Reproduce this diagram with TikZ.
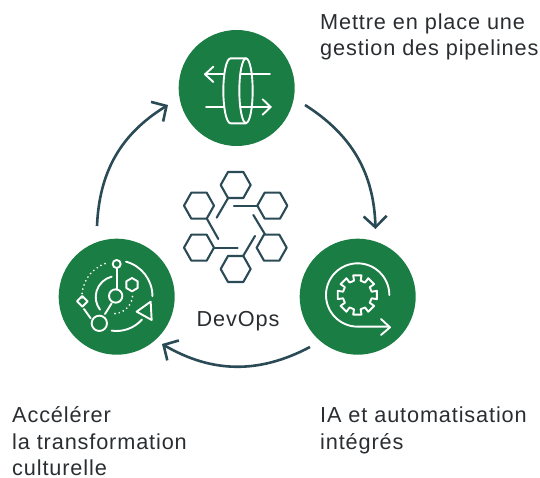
\documentclass[tikz,border=0pt]{standalone}
\usepackage{fontspec}
\setmainfont[LetterSpace=4]{Liberation Sans}
\usetikzlibrary{arrows.meta}
\definecolor{gr}{HTML}{1A7D43}
\definecolor{dk}{HTML}{2A4A55}
\definecolor{tx}{HTML}{2A2E31}
\tikzset{
  disc/.style={circle,fill=gr,draw=none,minimum size=116pt,inner sep=0pt},
  cyc/.style={draw=dk,line width=2.6pt,-{Straight Barb[length=11pt,width=23pt,line width=2.6pt]}},
  ico/.style={draw=white,line width=1.9pt,line join=round,line cap=round},
  hexl/.style={draw=dk,line width=2.1pt,line join=round,line cap=round},
  lab/.style={anchor=base west,align=left,text=tx,text depth=0pt,font=\fontsize{21.7pt}{27pt}\selectfont,inner sep=0pt},
  zoomA/.style={shift={(170pt,-40pt)},x=0.3333pt,y=-0.3333pt},
  zoomB/.style={shift={(50pt,-215pt)},x=0.3333pt,y=-0.3333pt},
  zoomC/.style={shift={(295pt,-215pt)},x=0.3333pt,y=-0.3333pt},
  zoomD/.style={shift={(175pt,-165pt)},x=0.3333pt,y=-0.3333pt}
}
\begin{document}
\begin{tikzpicture}[x=1pt,y=-1pt]
\useasboundingbox (0,0) rectangle (540,478);
\node[disc] (top) at (236.7,88) {};
\node[disc] (lft) at (116.7,296.7) {};
\node[disc] (rgt) at (357.7,296.7) {};
\coordinate (a1) at (305,105);
\coordinate (a2) at (375.5,229);
\coordinate (b1) at (310,347);
\coordinate (b2) at (162,344);
\coordinate (c1) at (97,226);
\coordinate (c2) at (168,105);
\draw[cyc] (a1) to[bend left=28] (a2);
\draw[cyc] (b1) to[bend left=29] (b2);
\draw[cyc] (c1) to[bend left=28] (c2);
% top icon
\begin{scope}[zoomA]
\draw[ico] (130,80) -- (105,103) -- (130,126);
\draw[ico] (105,103) -- (160,103);
\draw[ico] (212,103) -- (300,103);
\draw[ico] (108,201) -- (160,201);
\draw[ico] (212,201) -- (302,201);
\draw[ico] (278,178) -- (302,201) -- (278,224);
\draw[ico] (228,55) -- (182,55) .. controls (168,55) and (160,105) .. (160,152) .. controls (160,200) and (168,250) .. (182,250) -- (228,250);
\draw[ico] (228,152) ellipse [x radius=20,y radius=97];
\end{scope}
% left icon
\begin{scope}[zoomB]
\draw[ico] (200,147) circle [radius=12];
\draw[ico] (200,160) -- (200,224);
\draw[ico] (197,243) circle [radius=20];
\draw[ico] (185,265) -- (165,297);
\draw[ico] (148,325) circle [radius=23];
\draw[ico] (97,243) -- (113,259) -- (97,275) -- (81,259) -- cycle;
\draw[ico] (102,282) -- (122,310);
\draw[ico] (246,189) -- (263,199) -- (263,219) -- (246,229) -- (229,219) -- (229,199) -- cycle;
\draw[ico] (260,290) -- (302,260) -- (305,315) -- cycle;
\draw[ico] (228,140) arc[start angle=-75,end angle=0,radius=107];
\draw[ico] (185,347) arc[start angle=98,end angle=42,radius=103];
\draw[ico,dash pattern=on 0pt off 4.4pt] (165,146) arc[start angle=-110,end angle=-185,radius=105];
\draw[ico] (185,185) arc[start angle=-104,end angle=-217,radius=63];
\draw[ico,dash pattern=on 0pt off 4.4pt] (195,296) arc[start angle=85,end angle=-5,radius=58];
\end{scope}
% right icon
\begin{scope}[zoomC]
\draw[ico] (283,240) arc[start angle=0,end angle=-270,radius=95] -- (282,335);
\draw[ico] (258,312) -- (285,337) -- (258,360);
\draw[ico,shift={(187,240)}] (-13:44) \foreach \a in {0,45,...,315} { -- (\a-13:44) -- (\a-12:60) -- (\a+12:60) -- (\a+13:44) } -- cycle;
\end{scope}
% centre icon
\begin{scope}[zoomD]
\foreach \n/\cx/\cy in {h1/182/60,h2/292/122,h3/72/122,h4/72/248,h5/290/248,h6/182/312}{
  \draw[hexl,shift={(\cx,\cy)}] (-45,0) -- (-23,-39) -- (23,-39) -- (45,0) -- (23,39) -- (-23,39) -- cycle;
}
\draw[hexl] (160,98) -- (125,158);
\draw[hexl] (248,122) -- (177,122);
\draw[hexl] (235,150) -- (270,208);
\draw[hexl] (240,213) -- (205,272);
\draw[hexl] (188,250) -- (117,250);
\draw[hexl] (95,160) -- (130,222);
\end{scope}
\node[lab,anchor=base] (dev) at (238,326) {DevOps};
\node[lab] (t1) at (320,29.5) {Mettre en place une};
\node[lab] (t1b) at (320,56) {gestion des pipelines};
\node[lab] (t2) at (320,422.5) {IA et automatisation};
\node[lab] (t2b) at (320,449) {intégrés};
\node[lab] (t3) at (12,422.5) {Accélérer};
\node[lab] (t3b) at (12,449) {la transformation};
\node[lab] (t3c) at (12,475) {culturelle};
\end{tikzpicture}
\end{document}
